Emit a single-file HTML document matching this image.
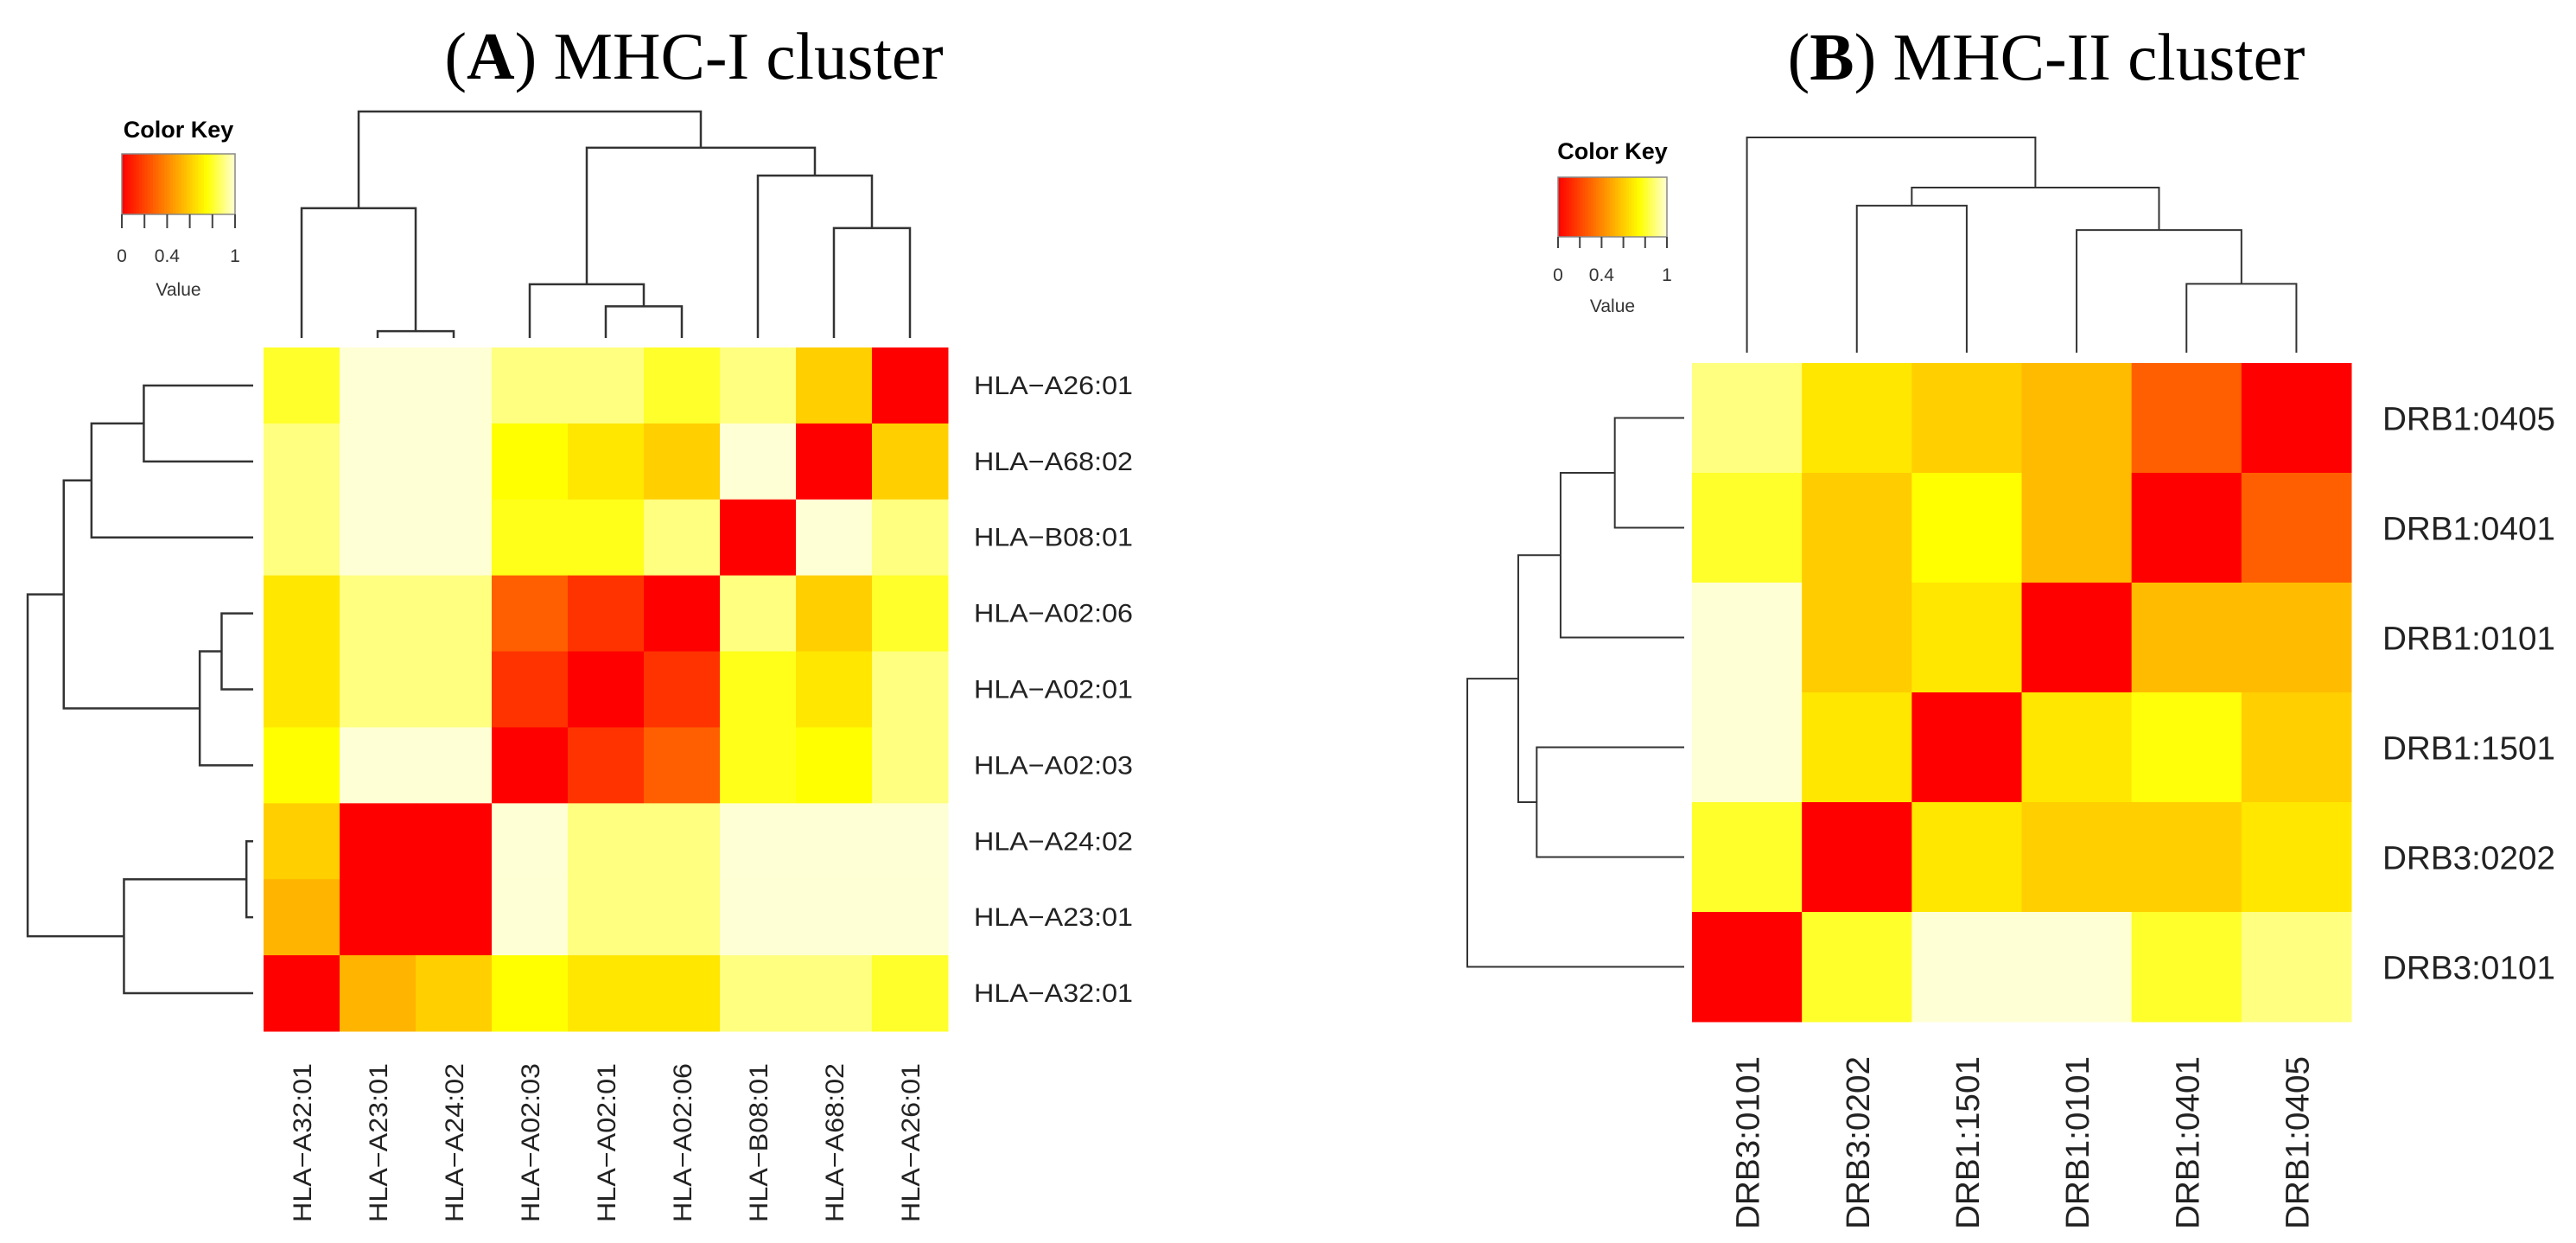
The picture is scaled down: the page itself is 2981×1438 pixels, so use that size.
<!DOCTYPE html>
<html><head><meta charset="utf-8">
<style>
html,body{margin:0;padding:0;background:#fff;}
svg{display:block;}
</style></head>
<body>
<svg id="fig" width="2981" height="1438" viewBox="0 0 2981 1438" xmlns="http://www.w3.org/2000/svg">
<rect x="0" y="0" width="2981" height="1438" fill="#fff"/>
</svg>
<script>
// ---------- Panel A data ----------
const aRowLabels = ["HLA−A26:01","HLA−A68:02","HLA−B08:01","HLA−A02:06","HLA−A02:01","HLA−A02:03","HLA−A24:02","HLA−A23:01","HLA−A32:01"];
const aColLabels = ["HLA−A32:01","HLA−A23:01","HLA−A24:02","HLA−A02:03","HLA−A02:01","HLA−A02:06","HLA−B08:01","HLA−A68:02","HLA−A26:01"];
const aValues = [
 [0.8,1,1,0.9,0.9,0.8,0.9,0.61,0],
 [0.9,1,1,0.75,0.68,0.61,1,0,0.61],
 [0.9,1,1,0.78,0.78,0.9,0,1,0.9],
 [0.68,0.9,0.9,0.28,0.15,0,0.9,0.61,0.8],
 [0.68,0.9,0.9,0.15,0,0.15,0.78,0.68,0.9],
 [0.75,1,1,0,0.15,0.28,0.78,0.75,0.9],
 [0.61,0,0,1,0.9,0.9,1,1,1],
 [0.53,0,0,1,0.9,0.9,1,1,1],
 [0,0.53,0.61,0.75,0.68,0.68,0.9,0.9,0.8]
];
const aColMerges = [[1,2,0.03],[0,-1,0.573],[4,5,0.14],[3,-3,0.237],[7,8,0.485],[6,-5,0.717],[-4,-6,0.84],[-2,-7,1.0]];
const aRowMerges = [[0,1,0.485],[2,-1,0.717],[3,4,0.14],[5,-3,0.237],[-2,-4,0.84],[6,7,0.03],[8,-6,0.573],[-5,-7,1.0]];

// ---------- Panel B data ----------
const bRowLabels = ["DRB1:0405","DRB1:0401","DRB1:0101","DRB1:1501","DRB3:0202","DRB3:0101"];
const bColLabels = ["DRB3:0101","DRB3:0202","DRB1:1501","DRB1:0101","DRB1:0401","DRB1:0405"];
const bValues = [
 [0.9,0.68,0.61,0.55,0.28,0],
 [0.8,0.6,0.75,0.55,0,0.28],
 [1,0.6,0.68,0,0.55,0.55],
 [1,0.68,0,0.68,0.76,0.61],
 [0.8,0,0.68,0.61,0.61,0.68],
 [0,0.8,1,1,0.8,0.9]
];
const bColMerges = [[4,5,0.32],[3,-1,0.57],[1,2,0.683],[-3,-2,0.767],[0,-4,1.0]];
const bRowMerges = [[0,1,0.32],[2,-1,0.57],[3,4,0.68],[-2,-3,0.765],[5,-4,1.0]];

const keyTicks = [0,0.2,0.4,0.6,0.8,1];
const keyTickLabels = {0:"0",0.4:"0.4",1:"1"};

const NS = "http://www.w3.org/2000/svg";
const svg = document.getElementById('fig');
function mk(tag, attrs, parent){
  const e = document.createElementNS(NS, tag);
  for (const k in attrs) e.setAttribute(k, attrs[k]);
  (parent||svg).appendChild(e);
  return e;
}
function heat(v){
  v = Math.max(0, Math.min(1, v));
  if (v <= 0.75) return `rgb(255,${Math.round(255*v/0.75)},0)`;
  return `rgb(255,255,${Math.round(213*(v-0.75)/0.25)})`;
}

function panel(p){
  const g = mk('g', {});
  
  
  // title
  const t = mk('text', {x:p.titleX, y:p.titleY, 'text-anchor':'middle', 'font-family':'"Liberation Serif", serif', 'font-size':77, fill:'#000'}, g);
  
  
  t.innerHTML = `(<tspan font-weight="bold">${p.letter}</tspan>) ${p.title}`;

  // color key
  const k = p.key;
  const kg = mk('g', {}, g);
  
  
  const kt = mk('text', {x:(k.x0+k.x1)/2, y:k.titleY, 'text-anchor':'middle', 'font-family':'"Liberation Sans", sans-serif', 'font-weight':'bold', 'font-size':k.titleSize, fill:'#000'}, kg);
  
  
  kt.textContent = 'Color Key';
  const nSteps = 40;
  const sw = (k.x1-k.x0)/nSteps;
  for (let i=0;i<nSteps;i++){
    const r = mk('rect', {x:k.x0+i*sw, y:k.y0, width:sw+0.6, height:k.y1-k.y0, fill:heat((i+0.5)/nSteps)}, kg);
    
    
  }
  mk('rect', {x:k.x0, y:k.y0, width:k.x1-k.x0, height:k.y1-k.y0, fill:'none', stroke:'#888', 'stroke-width':1.5}, kg);
  keyTicks.forEach(v=>{
    const x = k.x0 + v*(k.x1-k.x0);
    const tk = mk('line', {x1:x, x2:x, y1:k.y1, y2:k.tickY, stroke:'#444', 'stroke-width':2}, kg);
    
    
    if (keyTickLabels[v] !== undefined){
      const tl = mk('text', {x:x, y:k.labY, 'text-anchor':'middle', 'font-family':'"Liberation Sans", sans-serif', 'font-size':k.labSize, fill:'#333'}, kg);
      
      
      tl.textContent = keyTickLabels[v];
    }
  });
  const vl = mk('text', {x:(k.x0+k.x1)/2, y:k.valY, 'text-anchor':'middle', 'font-family':'"Liberation Sans", sans-serif', 'font-size':k.labSize, fill:'#333'}, kg);
  
  
  vl.textContent = 'Value';

  // heatmap cells
  const nr = p.values.length, nc = p.values[0].length;
  const cw = (p.hx1-p.hx0)/nc, ch = (p.hy1-p.hy0)/nr;
  const colX = j => p.hx0 + (j+0.5)*cw;
  const rowY = i => p.hy0 + (i+0.5)*ch;
  const hg = mk('g', {}, g);
  
  
  p.values.forEach((row,i)=>row.forEach((v,j)=>{
    const c = mk('rect', {x:p.hx0+j*cw, y:p.hy0+i*ch, width:cw+0.5, height:ch+0.5, fill:heat(v)}, hg);
    
    
  }));

  // row labels
  p.rowLabels.forEach((lab,i)=>{
    const tx = mk('text', {x:p.rowLabX, y:rowY(i)+p.rowLabDy, 'font-family':'"Liberation Sans", sans-serif', 'font-size':p.labSize, fill:'#222', textLength:p.labLen, lengthAdjust:'spacingAndGlyphs'}, g);
    
    
    tx.textContent = lab;
  });
  // column labels (rotated)
  p.colLabels.forEach((lab,j)=>{
    const x = colX(j) + p.colLabDx;
    const tx = mk('text', {x:x, y:p.colLabY, 'text-anchor':'end', transform:`rotate(-90 ${x} ${p.colLabY})`, 'font-family':'"Liberation Sans", sans-serif', 'font-size':p.labSize, fill:'#222', textLength:p.labLen, lengthAdjust:'spacingAndGlyphs'}, g);
    
    
    tx.textContent = lab;
  });

  // dendrograms
  function dendro(merges, leafPos, base, span, horizontal, name){
    const dg = mk('g', {}, g);
    
    
    const nodes = [];
    const pos = idx => idx >= 0 ? {c:leafPos(idx), h:0} : nodes[-idx-1];
    merges.forEach(m=>{
      const a = pos(m[0]), b = pos(m[1]), h = m[2];
      const hp = v => base - v*span;
      let d;
      if (!horizontal) d = `M${a.c},${hp(a.h)} V${hp(h)} H${b.c} V${hp(b.h)}`;
      else d = `M${hp(a.h)},${a.c} H${hp(h)} V${b.c} H${hp(b.h)}`;
      const path = mk('path', {d:d, fill:'none', stroke:'#333', 'stroke-width':p.lw}, dg);
      
      
      nodes.push({c:(a.c+b.c)/2, h:h});
    });
  }
  dendro(p.colMerges, colX, p.colBase, p.colSpan, false, 'column-dendrogram');
  dendro(p.rowMerges, rowY, p.rowBase, p.rowSpan, true, 'row-dendrogram');
}

panel({
  name:'panel-a-mhc-i', letter:'A', title:'MHC-I cluster', titleX:803, titleY:91,
  key:{x0:141,x1:272,y0:178,y1:248,tickY:264,labY:303,valY:342,titleY:159,titleSize:27,labSize:21},
  values:aValues, rowLabels:aRowLabels, colLabels:aColLabels,
  hx0:305, hx1:1097, hy0:402, hy1:1193,
  rowLabX:1127, rowLabDy:10, labSize:30, labLen:184,
  colLabY:1230, colLabDx:11,
  colMerges:aColMerges, colBase:391, colSpan:262,
  rowMerges:aRowMerges, rowBase:293, rowSpan:261, lw:2.5
});
panel({
  name:'panel-b-mhc-ii', letter:'B', title:'MHC-II cluster', titleX:2368, titleY:92,
  key:{x0:1803,x1:1929,y0:205,y1:274,tickY:287,labY:325,valY:361,titleY:184,titleSize:27,labSize:21},
  values:bValues, rowLabels:bRowLabels, colLabels:bColLabels,
  hx0:1958, hx1:2721, hy0:420, hy1:1182,
  rowLabX:2757, rowLabDy:14, labSize:38, labLen:200,
  colLabY:1222, colLabDx:14,
  colMerges:bColMerges, colBase:408, colSpan:249,
  rowMerges:bRowMerges, rowBase:1949, rowSpan:251, lw:2
});
</script>
</body></html>
